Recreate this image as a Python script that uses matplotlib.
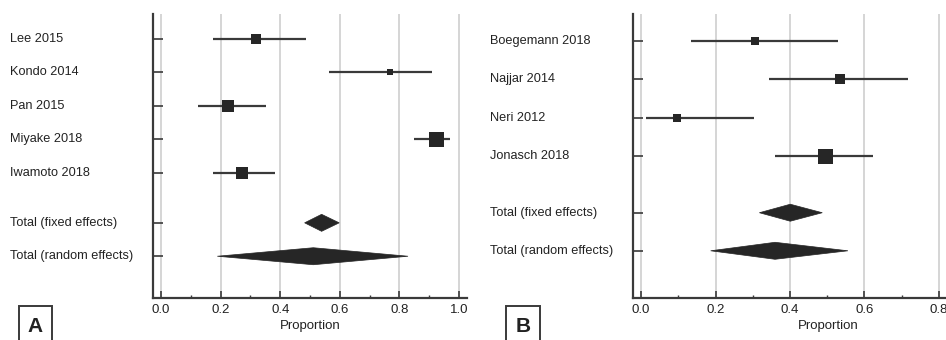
import matplotlib
matplotlib.use("Agg")
import matplotlib.pyplot as plt
import matplotlib.transforms as mtransforms
from matplotlib.patches import Polygon, Rectangle
import numpy as np

plt.rcParams['font.family'] = ['Liberation Sans', 'DejaVu Sans']

# ---- Panel A data ----
studies_a = ["Lee 2015", "Kondo 2014", "Pan 2015", "Miyake 2018", "Iwamoto 2018"]
est_a = [0.318, 0.768, 0.226, 0.923, 0.271]
lo_a = [0.176, 0.564, 0.125, 0.848, 0.173]
hi_a = [0.486, 0.908, 0.351, 0.969, 0.384]
weight_a = [12.6, 7.6, 18.8, 34.9, 26.2]
fixed_a = [0.482, 0.539, 0.598]
random_a = [0.189, 0.511, 0.829]

# ---- Panel B data ----
studies_b = ["Boegemann 2018", "Najjar 2014", "Neri 2012", "Jonasch 2018"]
est_b = [0.305, 0.534, 0.097, 0.493]
lo_b = [0.133, 0.343, 0.013, 0.361]
hi_b = [0.529, 0.718, 0.304, 0.624]
weight_b = [11.6, 23.6, 11.6, 53.2]
fixed_b = [0.318, 0.401, 0.487]
random_b = [0.187, 0.360, 0.556]

xticks = [0.0, 0.2, 0.4, 0.6, 0.8, 1.0]
xticklabels = ["0.0", "0.2", "0.4", "0.6", "0.8", "1.0"]
total_labels = ["Total (fixed effects)", "Total (random effects)"]

W, H = 946, 340
fig = plt.figure(figsize=(W / 100, H / 100), dpi=100)
fig.patch.set_facecolor("white")

DARK = "#262626"
SPINE = "#3a3a3a"
GRID = "#d2d2d2"


def panel(left_px, right_px, xlim, label_x_px, studies, est, lo, hi, weight, fixed, rnd,
          top_extra, bottom_extra, letter, box_px):
    top_px, bot_px = 14, 298
    ax = fig.add_axes([left_px / W, 1 - bot_px / H, (right_px - left_px) / W, (bot_px - top_px) / H])
    n = len(studies)
    ypos = list(range(n)) + [n + 0.5, n + 1.5]
    ax.set_xlim(*xlim)
    ax.set_ylim(n + 1.5 + bottom_extra, -top_extra)
    for t in xticks:
        ax.axvline(t, color=GRID, lw=1.3, zorder=0)
    maxw = max(weight)
    for i in range(n):
        ax.plot([lo[i], hi[i]], [ypos[i], ypos[i]], color=SPINE, lw=1.6, zorder=2,
                solid_capstyle="butt")
        side_px = 15 * np.sqrt(weight[i] / maxw)
        ax.plot([est[i]], [ypos[i]], marker="s", color=DARK, markersize=side_px * 0.72,
                markeredgewidth=0, zorder=3)
    row_px = (bot_px - top_px) / (n + 1.5 + bottom_extra + top_extra)
    half = 8.5 / row_px
    for (l, e, h), y in zip([fixed, rnd], ypos[n:]):
        poly = Polygon([[l, y], [e, y - half], [h, y], [e, y + half]], closed=True,
                       facecolor=DARK, edgecolor=DARK, lw=0.5, zorder=3)
        ax.add_patch(poly)
    ax.set_yticks(ypos)
    ax.set_yticklabels([])
    ax.set_xticks(xticks)
    ax.set_xticklabels(xticklabels, fontsize=9.5, color="#222222")
    ax.set_xticks(np.arange(0.1, 1.0, 0.2), minor=True)
    ax.tick_params(axis="x", which="major", direction="in", length=5, width=1.2, color=SPINE, pad=4)
    ax.tick_params(axis="x", which="minor", direction="in", length=2.5, width=1.0, color=SPINE)
    ax.tick_params(axis="y", direction="in", length=7, width=1.2, color=SPINE)
    for s in ["top", "right"]:
        ax.spines[s].set_visible(False)
    for s in ["left", "bottom"]:
        ax.spines[s].set_color(SPINE)
        ax.spines[s].set_linewidth(1.6)
    ax.set_xlabel("Proportion", fontsize=9.5, color="#222222", labelpad=3)
    trans = mtransforms.blended_transform_factory(fig.transFigure, ax.transData)
    for lab, y in zip(studies + total_labels, ypos):
        fig.text(label_x_px / W, y, lab, transform=trans, fontsize=9.2, va="center",
                 ha="left", color="#222222")
    # panel letter box
    bx0, bx1 = box_px
    fig.add_artist(Rectangle((bx0 / W, -0.1), (bx1 - bx0) / W, 0.1 + (H - 306) / H,
                             transform=fig.transFigure, fill=False, edgecolor=SPINE, lw=1.4))
    fig.text((bx0 + bx1) / 2 / W, 1 - 327 / H, letter, fontsize=15, fontweight="bold",
             ha="center", va="center", color="#222222")
    return ax


panel(153, 467, (-0.027, 1.027), 10, studies_a, est_a, lo_a, hi_a, weight_a, fixed_a, random_a,
      0.75, 1.25, "A", (19, 52))
panel(633.3, 633.3 + 372 * 1.048, (-0.021, 1.027), 490, studies_b, est_b, lo_b, hi_b, weight_b,
      fixed_b, random_b, 0.72, 1.24, "B", (506, 540))

fig.savefig("out.png", dpi=100, facecolor="white")
